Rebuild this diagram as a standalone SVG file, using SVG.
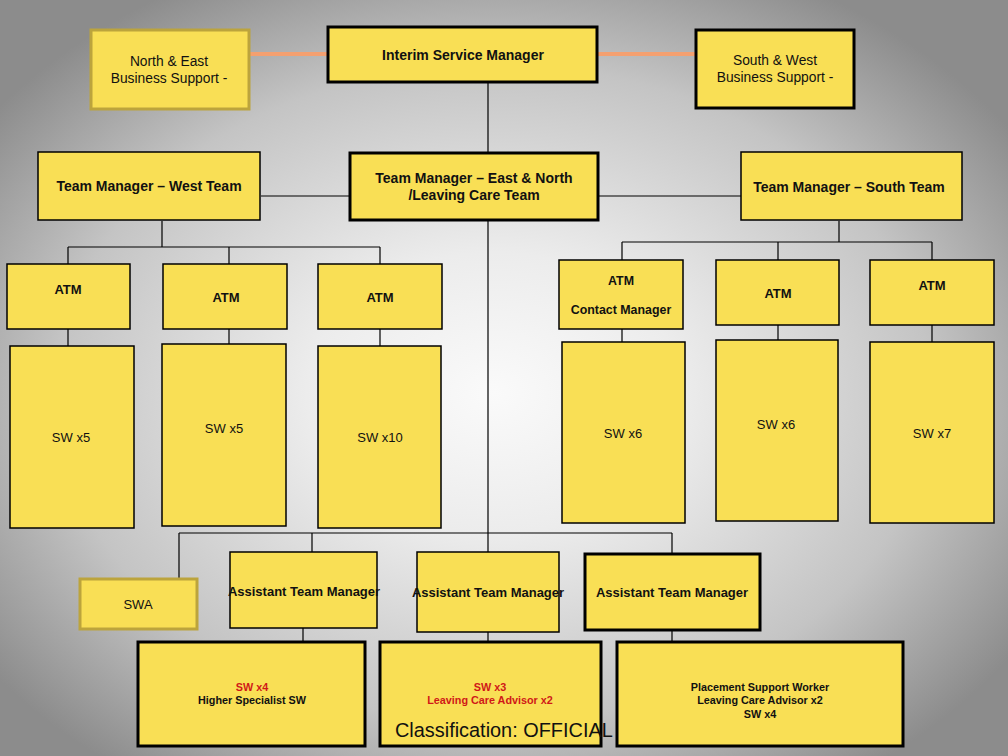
<svg xmlns="http://www.w3.org/2000/svg" width="1008" height="756" viewBox="0 0 1008 756">
<defs>
<radialGradient id="bg" cx="0.49" cy="0.52" r="0.62">
<stop offset="0" stop-color="#fafafa"/>
<stop offset="0.3" stop-color="#ececec"/>
<stop offset="0.7" stop-color="#c4c4c4"/>
<stop offset="1" stop-color="#8c8c8c"/>
</radialGradient>
<style>
.b{fill:#f9df55;stroke:#000;stroke-width:1.5}
.bt{fill:#f9df55;stroke:#000;stroke-width:3}
.bo{fill:#f9df55;stroke:#bca43c;stroke-width:3}
.t{font-family:"Liberation Sans",Arial,sans-serif;font-size:13.8px;text-anchor:middle;fill:#111}
.tn{font-family:"Liberation Sans",Arial,sans-serif;font-size:13px;text-anchor:middle;fill:#111}
.tb{font-family:"Liberation Sans",Arial,sans-serif;font-size:14px;font-weight:bold;text-anchor:middle;fill:#111}
.ta{font-family:"Liberation Sans",Arial,sans-serif;font-size:13px;font-weight:bold;text-anchor:middle;fill:#111}
.tc{font-family:"Liberation Sans",Arial,sans-serif;font-size:12.4px;font-weight:bold;text-anchor:middle;fill:#111}
.ts{font-family:"Liberation Sans",Arial,sans-serif;font-size:10.8px;font-weight:bold;text-anchor:middle;fill:#111}
.red{fill:#d01818}
.c{fill:none;stroke:#000;stroke-width:1.2}
.o{fill:none;stroke:#f4a070;stroke-width:4}
</style>
</defs>
<rect width="1008" height="756" fill="url(#bg)"/>
<g id="connectors">
<line class="o" x1="250" y1="54" x2="328" y2="54"/>
<line class="o" x1="597" y1="54" x2="696" y2="54"/>
<path class="c" d="M488 83V152M488 221V552M261 196H349M599 196H741"/>
<path class="c" d="M162 221V247M68 247H380M68 247V264M229 247V264M380 247V264"/>
<path class="c" d="M68 329V346M229 329V344M380 329V346"/>
<path class="c" d="M839 221V242M622 242H932M622 242V260M778 242V260M932 242V260"/>
<path class="c" d="M622 329V342M778 325V340M932 325V342"/>
<path class="c" d="M179 533H672M179 533V579M312 533V552M672 533V553"/>
<path class="c" d="M303 628V641M488 632V641M672 630V641"/>
</g>
<g id="ne-support"><rect class="bo" x="91" y="30" width="158" height="79"/><text class="t" x="169" y="66">North &amp; East</text><text class="t" x="169" y="83">Business Support -</text></g>
<g id="interim"><rect class="bt" x="328" y="27" width="269" height="55"/><text class="tb" x="463" y="60">Interim Service Manager</text></g>
<g id="sw-support"><rect class="bt" x="696" y="30" width="158" height="78"/><text class="t" x="775" y="65">South &amp; West</text><text class="t" x="775" y="82">Business Support -</text></g>
<g id="tm-west"><rect class="b" x="38" y="152" width="222" height="68"/><text class="tb" x="149" y="191">Team Manager – West Team</text></g>
<g id="tm-east"><rect class="bt" x="350" y="153" width="248" height="67"/><text class="tb" x="474" y="183">Team Manager – East &amp; North</text><text class="tb" x="474" y="200">/Leaving Care Team</text></g>
<g id="tm-south"><rect class="b" x="741" y="152" width="221" height="68"/><text class="tb" x="849" y="192">Team Manager – South Team</text></g>
<g id="atm-w1"><rect class="b" x="7" y="264" width="123" height="65"/><text class="ta" x="68" y="294">ATM</text></g>
<g id="atm-w2"><rect class="b" x="163" y="264" width="124" height="65"/><text class="ta" x="226" y="302">ATM</text></g>
<g id="atm-w3"><rect class="b" x="318" y="264" width="124" height="65"/><text class="ta" x="380" y="302">ATM</text></g>
<g id="atm-s1"><rect class="b" x="559" y="260" width="124" height="69"/><text class="tc" x="621" y="285">ATM</text><text class="tc" x="621" y="314">Contact  Manager</text></g>
<g id="atm-s2"><rect class="b" x="716" y="260" width="123" height="65"/><text class="ta" x="778" y="298">ATM</text></g>
<g id="atm-s3"><rect class="b" x="870" y="260" width="124" height="65"/><text class="ta" x="932" y="290">ATM</text></g>
<g id="sw-w1"><rect class="b" x="10" y="346" width="124" height="182"/><text class="tn" x="71" y="442">SW x5</text></g>
<g id="sw-w2"><rect class="b" x="162" y="344" width="124" height="182"/><text class="tn" x="224" y="433">SW x5</text></g>
<g id="sw-w3"><rect class="b" x="318" y="346" width="123" height="182"/><text class="tn" x="380" y="442">SW x10</text></g>
<g id="sw-s1"><rect class="b" x="562" y="342" width="123" height="181"/><text class="tn" x="623" y="438">SW x6</text></g>
<g id="sw-s2"><rect class="b" x="716" y="340" width="122" height="181"/><text class="tn" x="776" y="429">SW x6</text></g>
<g id="sw-s3"><rect class="b" x="870" y="342" width="124" height="181"/><text class="tn" x="932" y="438">SW x7</text></g>
<g id="swa"><rect class="bo" x="80" y="579" width="117" height="50"/><text class="tn" x="138" y="609">SWA</text></g>
<g id="astm1"><rect class="b" x="230" y="552" width="147" height="76"/><text class="ta" x="304" y="596">Assistant Team Manager</text></g>
<g id="astm2"><rect class="b" x="417" y="552" width="142" height="80"/><text class="ta" x="488" y="597">Assistant Team Manager</text></g>
<g id="astm3"><rect class="bt" x="585" y="554" width="175" height="76"/><text class="ta" x="672" y="597">Assistant Team Manager</text></g>
<g id="bottom-a"><rect class="bt" x="138" y="642" width="227" height="104"/><text class="ts red" x="252" y="691">SW x4</text><text class="ts" x="252" y="704">Higher Specialist SW</text></g>
<g id="bottom-b"><rect class="bt" x="380" y="642" width="221" height="104"/><text class="ts red" x="490" y="691">SW x3</text><text class="ts red" x="490" y="704">Leaving Care Advisor x2</text></g>
<g id="bottom-c"><rect class="bt" x="617" y="642" width="286" height="104"/><text class="ts" x="760" y="691">Placement Support Worker</text><text class="ts" x="760" y="704">Leaving Care Advisor x2</text><text class="ts" x="760" y="718">SW x4</text></g>
<text x="395" y="737" font-family="'Liberation Sans',Arial,sans-serif" font-size="19.9" fill="#111">Classification: OFFICIAL</text>
</svg>
